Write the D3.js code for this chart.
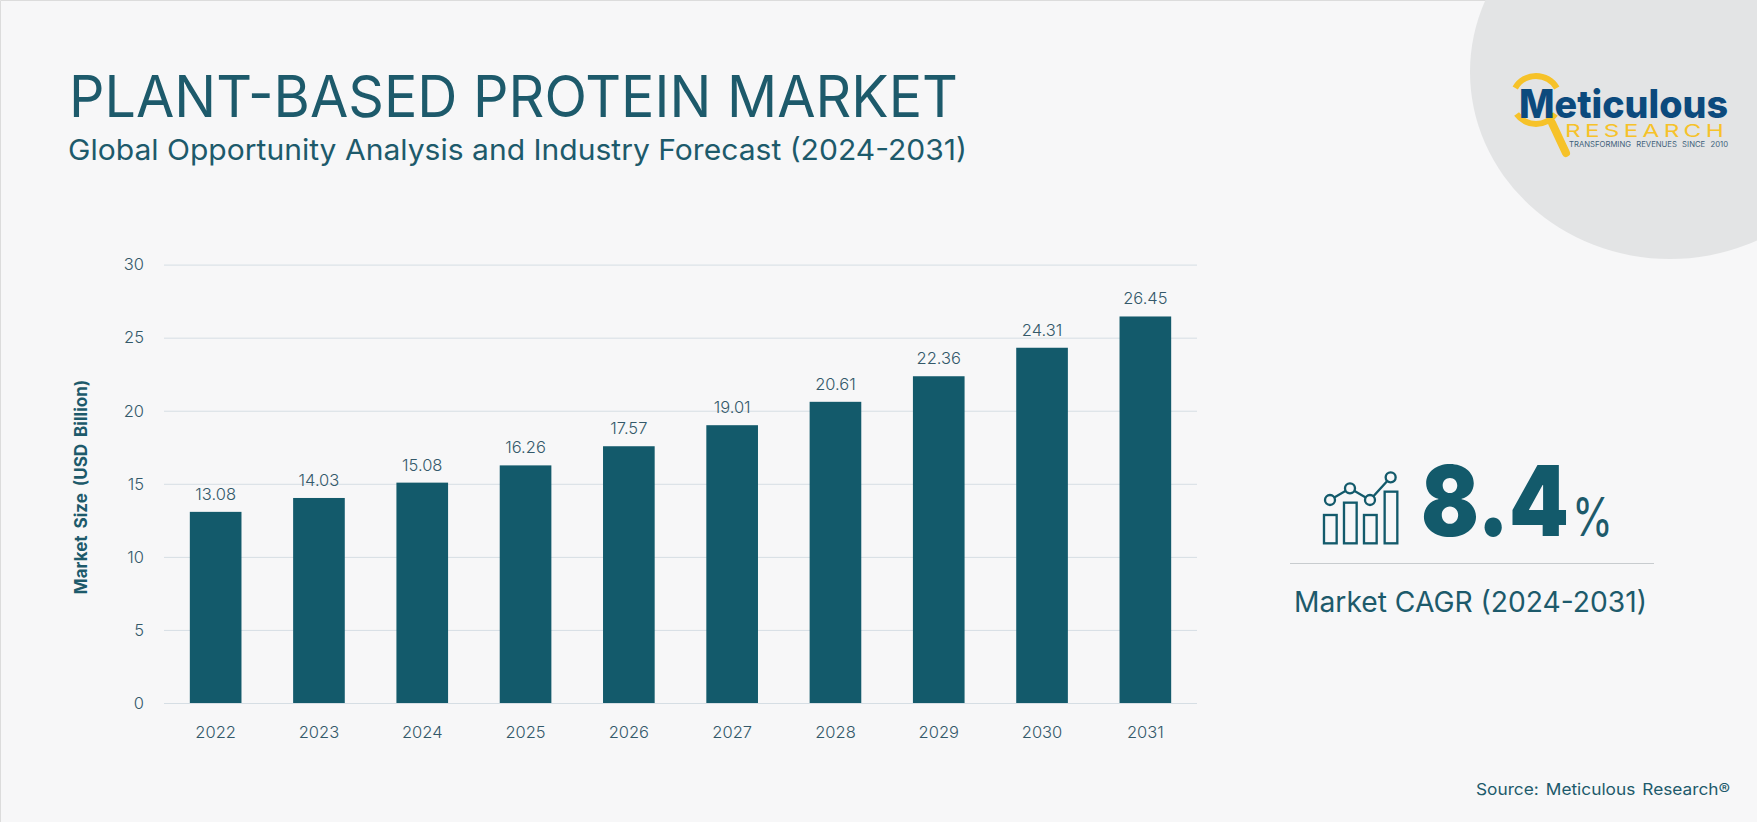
<!DOCTYPE html>
<html>
<head>
<meta charset="utf-8">
<title>Plant-Based Protein Market</title>
<script src="https://cdn.jsdelivr.net/npm/d3@7"></script>
<style>
  html, body { margin: 0; padding: 0; background: #f7f7f8; overflow: hidden; }
  svg { display: block; }
  text { font-family: Inter, "Open Sans", sans-serif; fill: #1d5a6b; }
</style>
</head>
<body>
<svg id="chart"></svg>
<script>
// chart data
const years = ["2022", "2023", "2024", "2025", "2026", "2027", "2028", "2029", "2030", "2031"];
const marketSize = [13.08, 14.03, 15.08, 16.26, 17.57, 19.01, 20.61, 22.36, 24.31, 26.45];
const yTicks = [0, 5, 10, 15, 20, 25, 30];

const svgWidth = 1757;
const svgHeight = 822;

//colors
const BACKGROUND = "#f7f7f8";
const TEAL = "#135a6b";
const TICK_TEXT = "#34596a";
const GRID = "#d6dee4";
const NAVY = "#0c4a7d";
const YELLOW = "#f6c229";

const svg = d3.select("#chart")
    .attr("width", svgWidth)
    .attr("height", svgHeight);

// background, with the thin border on top and left
svg.append("rect").attr("width", svgWidth).attr("height", svgHeight).attr("fill", BACKGROUND);
svg.append("path")
    .attr("d", `M0.5,${svgHeight} V0.5 H${svgWidth}`)
    .attr("fill", "none")
    .attr("stroke", "#dcdcdc");

// corner shape behind the logo
svg.append("ellipse")
    .attr("cx", 1670).attr("cy", 72).attr("rx", 200).attr("ry", 187)
    .attr("fill", "#e3e4e5");

/****************************  titles  ************************/
svg.append("text")
    .attr("x", 69).attr("y", 117)
    .attr("font-size", 58)
    .attr("font-weight", 400)
    .attr("textLength", 889)
    .attr("lengthAdjust", "spacingAndGlyphs")
    .text("PLANT-BASED PROTEIN MARKET");

svg.append("text")
    .attr("x", 68).attr("y", 160)
    .attr("font-size", 29)
    .attr("font-weight", 400)
    .attr("textLength", 899)
    .attr("lengthAdjust", "spacingAndGlyphs")
    .text("Global Opportunity Analysis and Industry Forecast (2024-2031)");

/****************************  bars and axes  ************************/
const x = d3.scaleBand()
    .domain(years)
    .range([164, 1197])
    .paddingInner(0.5)
    .paddingOuter(0.25);

const y = d3.scaleLinear()
    .domain([0, 30])
    .range([703, 264.6]);

const yAxis = svg.append("g")
    .attr("transform", "translate(164,0)")
    .call(d3.axisLeft(y).tickValues(yTicks).tickSize(-1033).tickPadding(20));
yAxis.select(".domain").remove();
yAxis.selectAll("line").attr("stroke", GRID);
yAxis.selectAll("text")
    .style("font-family", "Inter, sans-serif")
    .style("font-size", "16.5px")
    .style("font-weight", 300)
    .style("fill", TICK_TEXT);

const xAxis = svg.append("g")
    .attr("transform", "translate(0,703)")
    .call(d3.axisBottom(x).tickSize(0).tickPadding(23));
xAxis.select(".domain").remove();
xAxis.selectAll("text")
    .style("font-family", "Inter, sans-serif")
    .style("font-size", "16.5px")
    .style("font-weight", 300)
    .style("fill", TICK_TEXT);

svg.append("g")
    .selectAll("rect")
    .data(marketSize)
    .enter()
    .append("rect")
    .attr("x", (d, i) => x(years[i]))
    .attr("y", d => y(d))
    .attr("width", x.bandwidth())
    .attr("height", d => y(0) - y(d))
    .attr("fill", TEAL);

// value labels above the bars
svg.append("g")
    .selectAll("text")
    .data(marketSize)
    .enter()
    .append("text")
    .attr("x", (d, i) => x(years[i]) + x.bandwidth() / 2)
    .attr("y", d => y(d) - 12)
    .attr("text-anchor", "middle")
    .attr("font-size", 16.5)
    .attr("font-weight", 300)
    .style("fill", TICK_TEXT)
    .text(d => d.toFixed(2));

svg.append("text")
    .attr("transform", "translate(87,487) rotate(-90)")
    .attr("text-anchor", "middle")
    .attr("font-size", 17)
    .attr("font-weight", 700)
    .attr("word-spacing", 3)
    .text("Market Size (USD Billion)");

/****************************  CAGR panel  ************************/
svg.append("text")
    .attr("x", 1421).attr("y", 536)
    .attr("font-size", 98)
    .attr("font-weight", 900)
    .attr("textLength", 148)
    .attr("lengthAdjust", "spacingAndGlyphs")
    .style("fill", TEAL)
    .text("8.4");

svg.append("text")
    .attr("x", 1572).attr("y", 536)
    .attr("font-size", 53)
    .attr("font-weight", 400)
    .attr("textLength", 41)
    .attr("lengthAdjust", "spacingAndGlyphs")
    .text("%");

svg.append("line")
    .attr("x1", 1290).attr("x2", 1654)
    .attr("y1", 563.5).attr("y2", 563.5)
    .attr("stroke", "#c8cccf");

svg.append("text")
    .attr("x", 1294).attr("y", 612)
    .attr("font-size", 28)
    .attr("font-weight", 400)
    .attr("textLength", 353)
    .attr("lengthAdjust", "spacingAndGlyphs")
    .text("Market CAGR (2024-2031)");

// little bars and trend line icon
const icon = svg.append("g")
    .attr("transform", "translate(1270,430) scale(0.3333)")
    .attr("fill", "none")
    .attr("stroke", TEAL)
    .attr("stroke-width", 7);

[[162, 255, 38], [222, 218, 38], [282, 255, 38], [344, 185, 38]].forEach(b => {
    icon.append("rect")
        .attr("x", b[0]).attr("y", b[1])
        .attr("width", b[2]).attr("height", 340 - b[1]);
});

const iconDots = [[180, 210], [240, 175], [300, 210], [362, 142]];
icon.append("path").attr("d", d3.line()(iconDots));
iconDots.forEach(p => {
    icon.append("circle")
        .attr("cx", p[0]).attr("cy", p[1]).attr("r", 15)
        .attr("fill", BACKGROUND);
});

/****************************  logo  ************************/
const lensArc = d3.arc().innerRadius(21).outerRadius(27);
const logo = svg.append("g");

logo.append("path")
    .attr("transform", "translate(1536,100)")
    .attr("d", lensArc({ startAngle: -Math.PI / 3, endAngle: Math.PI / 3 }))
    .attr("fill", YELLOW);
logo.append("path")
    .attr("transform", "translate(1536,100)")
    .attr("d", lensArc({ startAngle: Math.PI * 0.7, endAngle: Math.PI * 1.3 }))
    .attr("fill", YELLOW);
logo.append("line")
    .attr("x1", 1552).attr("y1", 123)
    .attr("x2", 1566).attr("y2", 153)
    .attr("stroke", YELLOW)
    .attr("stroke-width", 8)
    .attr("stroke-linecap", "round");

logo.append("text")
    .attr("x", 1519).attr("y", 118)
    .attr("font-size", 39)
    .attr("font-weight", 800)
    .attr("textLength", 209)
    .attr("lengthAdjust", "spacingAndGlyphs")
    .style("fill", NAVY)
    .text("Meticulous");

logo.append("text")
    .attr("x", 1565).attr("y", 137)
    .attr("font-size", 17)
    .attr("font-weight", 400)
    .attr("letter-spacing", 3)
    .attr("textLength", 163)
    .attr("lengthAdjust", "spacingAndGlyphs")
    .style("fill", YELLOW)
    .text("RESEARCH");

logo.append("text")
    .attr("x", 1569).attr("y", 147)
    .attr("font-size", 7.5)
    .attr("font-weight", 400)
    .attr("word-spacing", 3)
    .attr("textLength", 159)
    .attr("lengthAdjust", "spacingAndGlyphs")
    .style("fill", "#3f5f7a")
    .text("TRANSFORMING REVENUES SINCE 2010");

/****************************  source  ************************/
svg.append("text")
    .attr("x", 1476).attr("y", 795)
    .attr("font-size", 16)
    .attr("font-weight", 400)
    .attr("word-spacing", 2)
    .attr("textLength", 254)
    .attr("lengthAdjust", "spacingAndGlyphs")
    .text("Source: Meticulous Research®");
</script>
</body>
</html>
